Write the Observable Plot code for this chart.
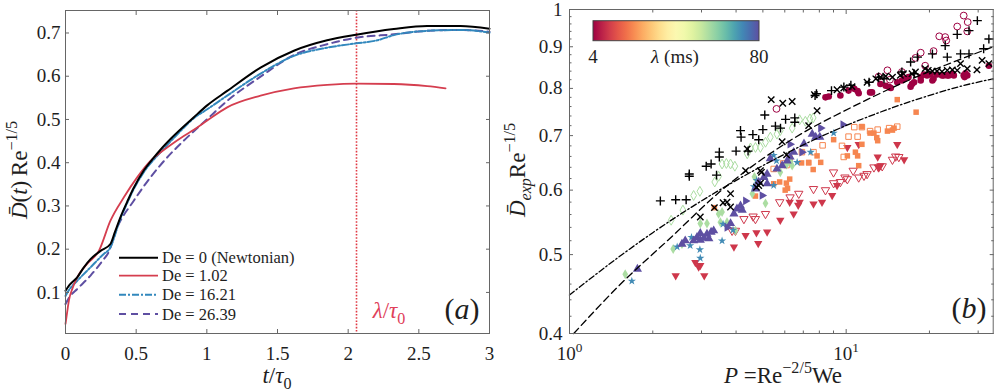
<!DOCTYPE html>
<html><head><meta charset="utf-8">
<script src="https://cdn.jsdelivr.net/npm/d3@7"></script>
<script src="https://cdn.jsdelivr.net/npm/@observablehq/plot@0.6"></script>
<style>
body{margin:0;background:#fff;}
#wrap{position:relative;width:996px;height:391px;overflow:hidden;background:#fff;}
#pa,#pb{position:absolute;top:0;}
#pa{left:0}#pb{left:500px}
</style></head><body><div id="wrap"><div id="pa"></div><div id="pb"></div></div>
<script>
// ---------------- Panel (a) data ----------------
const tNewt = [0,0.03,0.083,0.13,0.177,0.248,0.318,0.35,0.39,0.437,0.483,0.554,0.62,0.672,0.75,0.908,1.0,1.144,1.38,1.616,1.851,2.057,2.323,2.559,2.795,3.0];
const dNewt = [0.104,0.118,0.135,0.158,0.177,0.196,0.212,0.24,0.275,0.31,0.342,0.382,0.41,0.43,0.457,0.505,0.532,0.566,0.62,0.659,0.683,0.696,0.709,0.716,0.716,0.71];
const tDe1 = [0,0.012,0.024,0.05,0.083,0.153,0.236,0.318,0.413,0.507,0.601,0.719,0.837,0.908,1.0,1.144,1.38,1.616,1.851,2.057,2.323,2.559,2.689];
const dDe1 = [0.027,0.055,0.081,0.11,0.135,0.166,0.196,0.266,0.32,0.366,0.404,0.435,0.462,0.476,0.497,0.528,0.555,0.572,0.58,0.583,0.582,0.577,0.572];
const tDe16 = [0,0.03,0.083,0.177,0.271,0.31,0.39,0.437,0.483,0.554,0.672,0.79,0.908,1.0,1.144,1.38,1.616,1.851,2.057,2.205,2.323,2.559,2.795,3.0];
const dDe16 = [0.092,0.108,0.127,0.158,0.189,0.2,0.272,0.307,0.339,0.378,0.424,0.465,0.503,0.523,0.555,0.606,0.647,0.666,0.676,0.683,0.695,0.705,0.707,0.701];
const tDe26 = [0,0.03,0.083,0.177,0.271,0.3,0.366,0.483,0.601,0.719,0.837,1.0,1.144,1.38,1.616,1.851,2.057,2.323,2.559,2.795,3.0];
const dDe26 = [0.073,0.09,0.108,0.139,0.177,0.19,0.25,0.312,0.366,0.412,0.451,0.5,0.543,0.599,0.649,0.674,0.689,0.697,0.705,0.707,0.703];
const seriesNames = ["De = 0 (Newtonian)","De = 1.02","De = 16.21","De = 26.39"];
const lambdaOverTau0 = 2.059;
const xTicksA = [0,0.5,1,1.5,2,2.5,3];
const yTicksA = [0.1,0.2,0.3,0.4,0.5,0.6,0.7];

// ---------------- Panel (b) data: [P, D] ----------------
const plusPts = [[2.13,0.582],[2.42,0.584],[2.64,0.584],[2.71,0.624],[2.71,0.628],[3.12,0.642],[3.25,0.646],[3.40,0.626],[3.48,0.668],[3.48,0.659],[4.0,0.670],[4.42,0.670],[4.15,0.710],[4.17,0.697],[4.60,0.702],[5.0,0.712],[4.83,0.692],[5.08,0.742],[5.55,0.719],[5.79,0.715],[6.04,0.733],[6.52,0.736],[6.52,0.727],[7.72,0.784],[7.81,0.788],[8.85,0.795],[9.81,0.803],[10.4,0.807],[12.1,0.814],[13.1,0.826],[13.7,0.822],[15.9,0.838],[17.1,0.862],[17.6,0.834],[18.1,0.874],[20.5,0.882],[22.8,0.903],[23.2,0.874],[25.2,0.932],[25.9,0.882],[27.8,0.942],[27.8,0.882],[29.8,0.969],[31.4,0.895],[32.8,0.920]];
const timesPts = [[2.97,0.556],[3.34,0.571],[3.59,0.579],[3.71,0.580],[3.82,0.572],[3.82,0.594],[4.74,0.605],[4.83,0.608],[4.90,0.612],[4.94,0.631],[5.36,0.775],[5.90,0.767],[6.38,0.771],[7.85,0.751],[7.32,0.720],[5.87,0.688],[4.39,0.674],[6.09,0.663],[4.33,0.634],[4.90,0.634],[7.68,0.786],[9.27,0.797],[9.80,0.801],[10.5,0.804],[11.9,0.814],[12.8,0.822],[13.3,0.826],[13.9,0.828],[14.7,0.826],[15.7,0.830],[16.1,0.834],[17.3,0.834],[17.8,0.838],[19.3,0.846],[19.8,0.842],[20.5,0.840],[21.3,0.840],[22.2,0.839],[23.2,0.842],[24.2,0.843],[25.2,0.842],[25.9,0.858],[27.4,0.846],[29.7,0.843],[31.0,0.866],[32.8,0.858]];
const crimsonOpen = [[5.60,0.755],[26.6,0.983],[25.2,0.953],[27.5,0.965],[27.4,0.940],[21.7,0.927],[22.8,0.925],[23.0,0.916],[18.6,0.885],[17.8,0.872],[20.7,0.889],[19.3,0.853],[14.1,0.842],[14.4,0.820],[13.1,0.827],[15.9,0.838]];
const crimsonFilled = [[8.42,0.780],[8.65,0.782],[9.53,0.784],[10.2,0.795],[10.7,0.799],[11.0,0.794],[11.1,0.789],[12.4,0.791],[13.3,0.810],[13.9,0.806],[14.5,0.801],[15.9,0.818],[17.1,0.804],[17.3,0.810],[17.6,0.814],[18.6,0.818],[20.5,0.818],[21.3,0.832],[22.2,0.830],[23.2,0.830],[24.2,0.834],[15.3,0.814],[14.3,0.803],[12.2,0.791],[27.4,0.830],[26.8,0.826],[32.8,0.853],[26.6,0.830],[27.0,0.835],[22.5,0.830],[23.5,0.830],[24.5,0.830],[20.2,0.832],[20.7,0.822],[18.6,0.826],[19.1,0.832],[19.6,0.830],[16.2,0.822],[16.8,0.826]];
const orangeFilled = [[15.3,0.775],[17.9,0.748],[11.4,0.718],[12.2,0.705],[12.6,0.705],[12.9,0.696],[13.0,0.690],[14.1,0.709],[14.7,0.711],[14.9,0.715],[11.4,0.683],[7.85,0.661],[7.32,0.649],[8.09,0.649],[10.1,0.661],[10.8,0.668],[11.0,0.661],[11.1,0.643],[5.47,0.611],[5.75,0.614],[6.08,0.612],[6.25,0.619],[6.02,0.600],[6.14,0.603],[4.70,0.590],[6.90,0.648],[7.32,0.648],[7.60,0.636],[9.01,0.692],[3.34,0.571]];
const orangeOpen = [[5.47,0.637],[5.92,0.647],[6.09,0.644],[6.25,0.656],[7.62,0.668],[8.22,0.681],[9.66,0.680],[9.80,0.659],[10.2,0.698],[11.0,0.698],[10.7,0.717],[11.4,0.717],[12.2,0.709],[13.0,0.712],[14.3,0.715],[15.3,0.718],[6.92,0.668]];
const redFilled = [[2.42,0.471],[2.85,0.489],[2.97,0.485],[2.93,0.483],[3.07,0.471],[3.93,0.511],[4.33,0.528],[4.74,0.532],[5.18,0.533],[4.81,0.516],[5.78,0.551],[6.46,0.561],[6.71,0.575],[6.79,0.580],[6.25,0.580],[7.62,0.577],[8.18,0.580],[8.90,0.591],[10.1,0.677],[11.1,0.683],[13.0,0.659],[13.3,0.643],[13.1,0.640],[15.3,0.683],[16.2,0.654],[9.27,0.608]];
const redOpen = [[3.87,0.535],[3.98,0.535],[4.27,0.553],[4.70,0.553],[4.61,0.557],[5.11,0.561],[5.75,0.580],[6.27,0.588],[6.74,0.594],[7.62,0.602],[8.42,0.600],[9.01,0.612],[9.53,0.614],[10.1,0.619],[11.1,0.622],[11.6,0.625],[11.9,0.628],[12.6,0.640],[13.1,0.640],[13.5,0.642],[14.7,0.654],[15.5,0.659],[15.1,0.660],[9.0,0.631],[10.6,0.634],[9.9,0.622]];
const greenOpen = [[2.33,0.551],[2.57,0.567],[2.81,0.591],[2.96,0.598],[3.35,0.614],[3.46,0.624],[3.56,0.646],[3.69,0.647],[3.82,0.646],[3.96,0.642],[4.39,0.665],[4.51,0.676],[4.70,0.677],[4.90,0.677],[5.11,0.687],[5.32,0.697],[5.62,0.703],[5.78,0.710],[6.38,0.715],[6.79,0.732],[7.12,0.729],[7.40,0.734],[7.60,0.736]];
const greenFilled = [[1.59,0.473],[2.37,0.508],[2.55,0.515],[2.97,0.546],[3.14,0.546],[3.46,0.561],[3.51,0.548],[3.71,0.548],[3.98,0.535],[4.58,0.594],[4.66,0.623],[5.11,0.578],[5.78,0.631],[6.09,0.645],[6.38,0.643],[6.27,0.652],[3.56,0.564]];
const purpleUp = [[1.76,0.480],[2.55,0.515],[2.62,0.520],[2.89,0.525],[2.97,0.521],[3.06,0.524],[3.14,0.530],[3.25,0.533],[3.32,0.535],[3.19,0.523],[2.97,0.531],[2.81,0.520],[3.82,0.546],[3.93,0.561],[4.03,0.569],[4.15,0.574],[4.21,0.567],[4.70,0.602],[4.83,0.614],[5.04,0.622],[5.18,0.628],[5.18,0.611],[5.32,0.656],[5.62,0.637],[5.87,0.643],[6.12,0.652],[6.27,0.659],[6.46,0.668],[7.04,0.684],[7.54,0.703],[7.76,0.697],[8.03,0.697]];
const purpleRight = [[4.33,0.582],[9.74,0.722],[8.09,0.715],[6.27,0.683],[6.92,0.668],[3.71,0.540],[4.97,0.591]];
const blueStars = [[1.68,0.464],[2.45,0.511],[2.76,0.525],[2.96,0.507],[2.97,0.495],[2.73,0.513],[3.59,0.545],[3.90,0.536],[3.56,0.520],[4.64,0.606],[4.75,0.617],[5.11,0.624],[5.47,0.662],[5.60,0.652],[5.47,0.608],[6.65,0.649],[7.44,0.668],[9.01,0.705]];
// relaxation time (ms) of each coloured data group
const lamCrimson = 4, lamRed = 11, lamOrange = 22, lamGreen = 57, lamBlue = 72, lamPurple = 80;
// fitted curves
const fitDashP = [1.036,1.53,2.3,3.55,5,7,9.5,12,17,24,34];
const fitDashD = [0.400,0.460,0.523,0.600,0.656,0.706,0.746,0.776,0.820,0.860,0.900];
const fitDotP = [1,1.5,2,3,4.4,6.3,9.5,13,19,26,34];
const fitDotD = [0.446,0.496,0.532,0.582,0.628,0.670,0.715,0.746,0.780,0.805,0.822];
const xMajorB = [1,10];
const xMinorB = [2,3,4,5,6,7,8,9,20,30];
const yMajorB = [0.4,0.5,0.6,0.7,0.8,0.9,1];
const yMinorB = [0.42,0.44,0.46,0.48,0.52,0.54,0.56,0.58,0.62,0.64,0.66,0.68,0.72,0.74,0.76,0.78,0.82,0.84,0.86,0.88,0.92,0.94,0.96,0.98];
const lamDomain = [4,80];

// ---------------- common ----------------
const FONT = "'Liberation Serif','Times New Roman',serif";
const INK = "#1e1e1e", FRAME = "#666";
const RED = "#d53e4f", BLUE = "#3288bd", PURPLE = "#5e4fa2";
const styles = [
  {stroke:"#000", dash:null, w:2},
  {stroke:RED, dash:null, w:1.8},
  {stroke:BLUE, dash:"7,2,2,2", w:2},
  {stroke:PURPLE, dash:"7,5", w:2}
];

// text with italic / superscript / subscript runs (offsets in em of the main font)
function rich(sel, parts) {
  let shift = 0;
  for (const p of parts) {
    const [txt, kind = ""] = typeof p === "string" ? [p] : p;
    const ts = sel.append("tspan").text(txt);
    let target = 0;
    if (kind.startsWith("sup")) target = -0.42;
    if (kind.startsWith("sub")) target = 0.25;
    if (target !== shift) {
      const f = target !== 0 ? 1 / 0.7 : 1;
      ts.attr("dy", ((target - shift) * f).toFixed(3) + "em");
    }
    if (target !== 0) ts.attr("font-size", "0.7em");
    if (kind === "i" || kind.endsWith("i")) ts.attr("font-style", "italic");
    shift = target;
  }
}

function frameAxes(xMaj, yMaj, fmtX, fmtY, padX, padY, xMin, yMin) {
  const m = [
    Plot.frame({stroke: FRAME, strokeWidth: 1}),
    Plot.axisX(xMaj, {anchor:"bottom", tickSize:-4, tickPadding:padX, tickFormat: fmtX, label:null, stroke:FRAME, fill:INK}),
    Plot.axisX(xMaj, {anchor:"top", tickSize:-4, tickFormat: () => "", label:null, stroke:FRAME}),
    Plot.axisY(yMaj, {anchor:"left", tickSize:-4, tickPadding:padY, tickFormat: fmtY, label:null, stroke:FRAME, fill:INK}),
    Plot.axisY(yMaj, {anchor:"right", tickSize:-4, tickFormat: () => "", label:null, stroke:FRAME})
  ];
  if (xMin) {
    m.push(Plot.axisX(xMin, {anchor:"bottom", tickSize:-2.5, tickFormat: () => "", label:null, stroke:FRAME}));
    m.push(Plot.axisX(xMin, {anchor:"top", tickSize:-2.5, tickFormat: () => "", label:null, stroke:FRAME}));
  }
  if (yMin) {
    m.push(Plot.axisY(yMin, {anchor:"left", tickSize:-2.5, tickFormat: () => "", label:null, stroke:FRAME}));
    m.push(Plot.axisY(yMin, {anchor:"right", tickSize:-2.5, tickFormat: () => "", label:null, stroke:FRAME}));
  }
  return m;
}

// ---------------- Panel (a) ----------------
const curvesA = [[tNewt,dNewt],[tDe1,dDe1],[tDe16,dDe16],[tDe26,dDe26]];
const linesA = curvesA.map(([ts, ds], k) => Plot.line(ts.map((t, i) => ({t, D: ds[i]})), {
  x: "t", y: "D", stroke: styles[k].stroke, strokeWidth: styles[k].w,
  strokeDasharray: styles[k].dash, curve: "monotone-x"
}));
const plotA = Plot.plot({
  width: 500, height: 391,
  marginLeft: 65, marginRight: 11, marginTop: 10, marginBottom: 58,
  style: {fontFamily: FONT, fontSize: "19px", color: INK, background: "transparent", overflow: "visible"},
  x: {domain: [0, 3]},
  y: {domain: [0.005, 0.752]},
  marks: [
    Plot.ruleX([lambdaOverTau0], {stroke: "#e03a44", strokeWidth: 1.6, strokeDasharray: "1.6,1.6"}),
    linesA[3], linesA[2], linesA[1], linesA[0],
    ...frameAxes(xTicksA, yTicksA, d => String(d), d => d.toFixed(1), 17, 9)
  ]
});
document.getElementById("pa").appendChild(plotA);
{
  const s = d3.select(plotA);
  const xs = plotA.scale("x");
  const g = s.append("g").attr("font-family", FONT).attr("fill", INK).attr("text-anchor", "middle");
  rich(g.append("text").attr("transform", "translate(27,170) rotate(-90)").attr("font-size", 23),
    [["D\u0304","i"], "(", ["t","i"], ")\u2009Re", ["\u22121/5","sup"]]);
  rich(g.append("text").attr("x", 277).attr("y", 383).attr("font-size", 23),
    [["t","i"], "/", ["\u03c4","i"], ["0","sub"]]);
  rich(g.append("text").attr("x", xs.apply(lambdaOverTau0) + 33).attr("y", 318).attr("font-size", 23).attr("fill", "#e0405a"),
    [["\u03bb","i"], "/", ["\u03c4","i"], ["0","sub"]]);
  rich(g.append("text").attr("x", 462).attr("y", 319).attr("font-size", 30),
    ["(", ["a","i"], ")"]);
  const rows = [257.7, 275.6, 294.7, 314];
  seriesNames.forEach((name, k) => {
    g.append("line").attr("x1", 119).attr("x2", 158).attr("y1", rows[k]).attr("y2", rows[k])
      .attr("stroke", styles[k].stroke).attr("stroke-width", styles[k].w)
      .attr("stroke-dasharray", styles[k].dash);
    g.append("text").attr("x", 162).attr("y", rows[k]).attr("dy", "0.35em").attr("text-anchor", "start")
      .attr("font-size", 16.5).text(name);
  });
}

// ---------------- Panel (b) ----------------
const rowsOf = (pts, lam) => pts.map(([P, D]) => ({P, D, lam}));
const plotB = Plot.plot({
  width: 496, height: 391,
  marginLeft: 69, marginRight: 3.3, marginTop: 9, marginBottom: 58,
  style: {fontFamily: FONT, fontSize: "19px", color: INK, background: "transparent", overflow: "visible"},
  x: {type: "log", domain: [1, 34]},
  y: {type: "log", domain: [0.4, 1]},
  color: {type: "linear", domain: lamDomain, scheme: "spectral"},
  marks: [
    Plot.dot(rowsOf(redOpen, lamRed), {x:"P", y:"D", stroke:"lam", fill:"none", strokeWidth:1, symbol:"triangle", rotate:180, r:3.1}),
    Plot.dot(rowsOf(redFilled, lamRed), {x:"P", y:"D", fill:"lam", symbol:"triangle", rotate:180, r:3.1}),
    Plot.dot(rowsOf(orangeOpen, lamOrange), {x:"P", y:"D", stroke:"lam", fill:"none", strokeWidth:1, symbol:"square", r:3.1}),
    Plot.dot(rowsOf(orangeFilled, lamOrange), {x:"P", y:"D", fill:"lam", symbol:"square", r:3.1}),
    Plot.dot(rowsOf(greenOpen, lamGreen), {x:"P", y:"D", stroke:"lam", fill:"none", strokeWidth:1, symbol:"diamond", r:3}),
    Plot.dot(rowsOf(greenFilled, lamGreen), {x:"P", y:"D", fill:"lam", symbol:"diamond", r:3}),
    Plot.dot(rowsOf(blueStars, lamBlue), {x:"P", y:"D", fill:"lam", symbol:"star", r:2.6}),
    Plot.dot(rowsOf(purpleUp, lamPurple), {x:"P", y:"D", fill:"lam", symbol:"triangle", r:3.4}),
    Plot.dot(rowsOf(purpleRight, lamPurple), {x:"P", y:"D", fill:"lam", symbol:"triangle", rotate:90, r:3.2}),
    Plot.dot(rowsOf(crimsonFilled, lamCrimson), {x:"P", y:"D", fill:"lam", symbol:"circle", r:3.3}),
    Plot.dot(rowsOf(crimsonOpen, lamCrimson), {x:"P", y:"D", stroke:"lam", fill:"none", strokeWidth:1, symbol:"circle", r:3.4}),
    Plot.dot(rowsOf(timesPts, null), {x:"P", y:"D", stroke:"#000", strokeWidth:1.4, symbol:"times", r:3}),
    Plot.dot(rowsOf(plusPts, null), {x:"P", y:"D", stroke:"#000", strokeWidth:1.4, symbol:"plus", r:3}),
    Plot.line(fitDashP.map((P, i) => ({P, D: fitDashD[i]})), {x:"P", y:"D", stroke:"#000", strokeWidth:1.3, strokeDasharray:"7,4", curve:"monotone-x"}),
    Plot.line(fitDotP.map((P, i) => ({P, D: fitDotD[i]})), {x:"P", y:"D", stroke:"#000", strokeWidth:1.3, strokeDasharray:"6,2.5,1.5,2.5", curve:"monotone-x"}),
    ...frameAxes(xMajorB, yMajorB, d => "10^" + Math.round(Math.log10(d)), d => d === 1 ? "1" : d.toFixed(1), 17, 11, xMinorB, yMinorB)
  ]
});
document.getElementById("pb").appendChild(plotB);
{
  const s = d3.select(plotB);
  s.selectAll("text").each(function() {
    const t = this.textContent;
    const m = /^10\^(\d)$/.exec(t);
    if (m) {
      const el = d3.select(this);
      el.text("");
      rich(el, ["10", [m[1], "sup"]]);
    }
  });
  const cs = plotB.scale("color");
  const g = s.append("g").attr("font-family", FONT).attr("fill", INK).attr("text-anchor", "middle");
  const grad = s.append("defs").append("linearGradient").attr("id", "cbarGrad");
  d3.range(0, 21).forEach(k => grad.append("stop").attr("offset", k / 20)
    .attr("stop-color", cs.apply(lamDomain[0] + (lamDomain[1] - lamDomain[0]) * k / 20)));
  g.append("rect").attr("x", 93).attr("y", 20.7).attr("width", 166).attr("height", 20)
    .attr("fill", "url(#cbarGrad)").attr("stroke", "#444").attr("stroke-width", 1);
  g.append("text").attr("x", 93).attr("y", 63).attr("font-size", 19).text(String(lamDomain[0]));
  g.append("text").attr("x", 259).attr("y", 63).attr("font-size", 19).text(String(lamDomain[1]));
  rich(g.append("text").attr("x", 175).attr("y", 63).attr("font-size", 19),
    [["\u03bb","i"], " (ms)"]);
  rich(g.append("text").attr("x", 283).attr("y", 383).attr("font-size", 23),
    [["P","i"], " =Re", ["\u22122/5","sup"], "We"]);
  rich(g.append("text").attr("transform", "translate(25,170) rotate(-90)").attr("font-size", 23),
    [["D\u0304","i"], ["exp","subi"], "Re", ["\u22121/5","sup"]]);
  rich(g.append("text").attr("x", 469).attr("y", 318).attr("font-size", 30),
    ["(", ["b","i"], ")"]);
}
</script>
</body></html>
